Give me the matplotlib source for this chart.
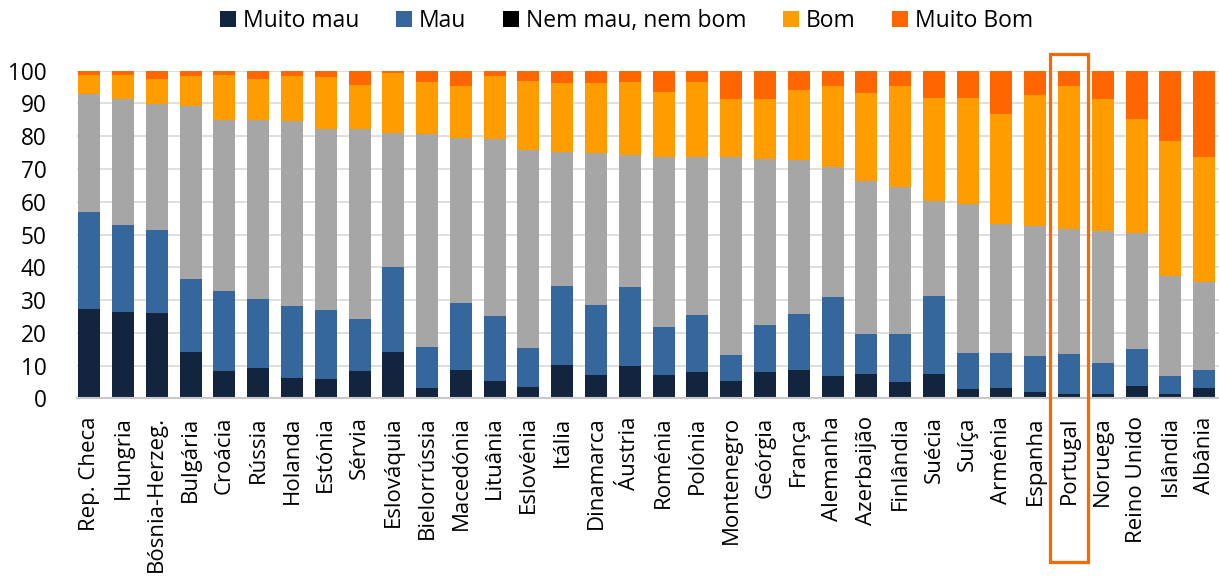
import matplotlib
matplotlib.use("Agg")
import matplotlib.pyplot as plt
from matplotlib.patches import Patch, Rectangle
from matplotlib.transforms import blended_transform_factory
import numpy as np

plt.rcParams['font.family'] = ['Open Sans', 'DejaVu Sans']

countries = ["Rep. Checa", "Hungria", "Bósnia-Herzeg.", "Bulgária", "Croácia", "Rússia",
             "Holanda", "Estónia", "Sérvia", "Eslováquia", "Bielorrússia", "Macedónia",
             "Lituânia", "Eslovénia", "Itália", "Dinamarca", "Áustria", "Roménia",
             "Polónia", "Montenegro", "Geórgia", "França", "Alemanha", "Azerbaijão",
             "Finlândia", "Suécia", "Suíça", "Arménia", "Espanha", "Portugal",
             "Noruega", "Reino Unido", "Islândia", "Albânia"]

muito_mau = [27.4, 26.2, 26.0, 14.2, 8.2, 9.1, 6.1, 6.0, 8.2, 14.0, 3.0, 8.5,
             5.4, 3.3, 10.2, 7.0, 10.0, 7.0, 8.1, 5.3, 8.1, 8.5, 6.9, 7.4,
             5.1, 7.3, 2.8, 3.2, 2.0, 1.4, 1.2, 3.7, 1.4, 3.2]
mau = [29.5, 26.7, 25.3, 22.2, 24.7, 21.3, 22.1, 20.9, 16.1, 26.2, 12.8, 20.5,
       19.7, 12.2, 24.0, 21.4, 23.9, 14.8, 17.3, 8.0, 14.3, 17.2, 23.9, 12.2,
       14.5, 24.0, 11.1, 10.5, 11.0, 12.1, 9.6, 11.2, 5.3, 5.5]
nem = [35.9, 38.5, 38.5, 52.9, 51.9, 54.5, 56.4, 55.4, 57.8, 40.9, 65.0, 50.6,
       54.1, 60.2, 41.1, 46.4, 40.5, 52.0, 48.3, 60.4, 50.7, 46.9, 39.9, 46.8,
       44.8, 28.8, 45.5, 39.6, 39.5, 38.1, 40.4, 35.5, 30.7, 26.8]
bom = [5.9, 7.3, 7.7, 9.2, 13.9, 12.7, 13.7, 15.8, 13.6, 18.2, 15.9, 15.6,
       19.3, 21.1, 20.9, 21.4, 22.3, 19.6, 22.8, 17.7, 18.3, 21.5, 24.7, 26.9,
       31.0, 31.6, 32.2, 33.6, 40.2, 43.8, 40.1, 34.8, 41.1, 38.3]
muito_bom = [1.3, 1.3, 2.5, 1.5, 1.3, 2.4, 1.7, 1.9, 4.3, 0.7, 3.3, 4.8,
             1.5, 3.2, 3.8, 3.8, 3.3, 6.6, 3.5, 8.6, 8.6, 5.9, 4.6, 6.7,
             4.6, 8.3, 8.4, 13.1, 7.3, 4.6, 8.7, 14.8, 21.5, 26.2]

series_names = ["Muito mau", "Mau", "Nem mau, nem bom", "Bom", "Muito Bom"]
yticks = [0, 10, 20, 30, 40, 50, 60, 70, 80, 90, 100]
highlight = "Portugal"

bar_colors = ["#13243f", "#35679c", "#a6a6a6", "#ff9c00", "#ff6600"]
legend_colors = ["#13243f", "#35679c", "#000000", "#ff9c00", "#ff6600"]

W, H = 1219, 577
fig = plt.figure(figsize=(W / 100, H / 100), dpi=100)
ax = fig.add_axes([77.3 / W, (H - 398.3) / H, (1219 - 77.3) / W, (398.3 - 70.7) / H])

x = np.arange(len(countries))
bottom = np.zeros(len(countries))
for vals, col in zip([muito_mau, mau, nem, bom, muito_bom], bar_colors):
    v = np.array(vals)
    ax.bar(x, v, bottom=bottom, width=0.65, color=col, zorder=3, linewidth=0)
    bottom += v

ax.set_xlim(-0.355, 33.44)
ax.set_ylim(0, 100)
ax.set_yticks(yticks)
ax.set_yticklabels([str(t) for t in yticks], fontsize=16.3)
ax.set_xticks(x)
ax.set_xticklabels(countries, rotation=90, fontsize=16, va='top', ha='center')
ax.tick_params(axis='y', length=0, pad=22)
ax.tick_params(axis='x', length=0, pad=13)
ax.grid(axis='y', color='#d9d9d9', linewidth=1.2, zorder=0)
for s in ['top', 'right', 'left']:
    ax.spines[s].set_visible(False)
ax.spines['bottom'].set_color('#c8c8c8')
ax.spines['bottom'].set_linewidth(1.5)
ax.spines['bottom'].set_zorder(4)

# highlight box around Portugal
idx = countries.index(highlight)
trans = blended_transform_factory(ax.transData, fig.transFigure)
box = Rectangle((idx - 0.56, (H - 562) / H), 1.12, (562 - 54) / H, transform=trans,
                fill=False, edgecolor='#ff6600', linewidth=2.3, clip_on=False, zorder=10)
fig.patches.append(box)

handles = [Patch(facecolor=c, edgecolor='none') for c in legend_colors]
fig.legend(handles, series_names, loc='center', bbox_to_anchor=(0.514, 1 - 21 / H),
           ncol=5, frameon=False, fontsize=16.5, handlelength=0.7, handleheight=0.7,
           handletextpad=0.3, columnspacing=1.6)

fig.savefig("out.png", dpi=100)
